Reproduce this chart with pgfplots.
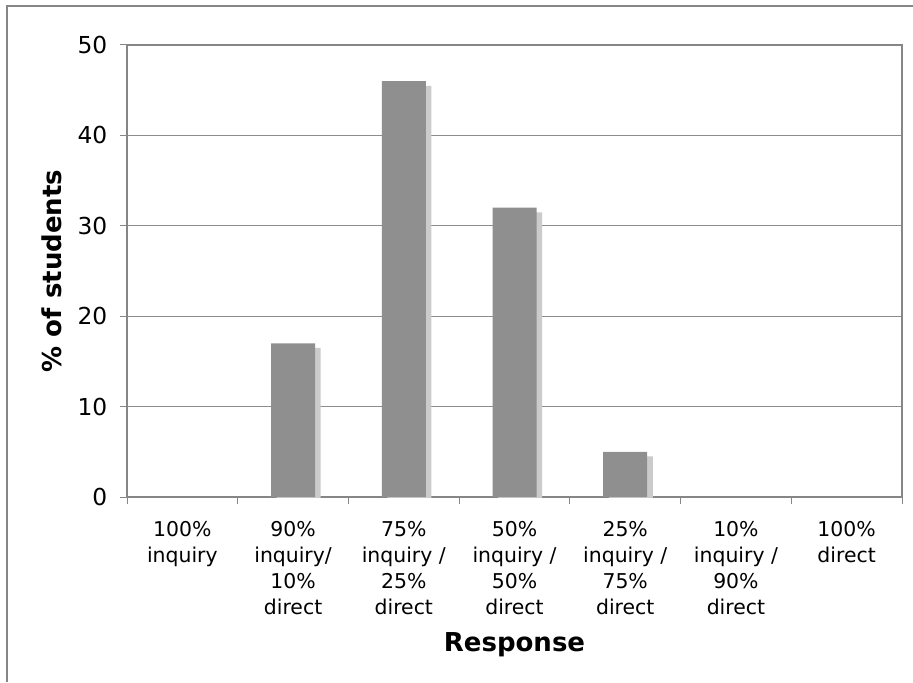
\documentclass[border=0pt]{standalone}
\usepackage{fontspec}
\setmainfont{DejaVu Sans}
\usepackage{pgfplots}
\pgfplotsset{compat=1.18}
\usetikzlibrary{shadows}
\definecolor{barfill}{HTML}{8F8F8F}
\definecolor{barshadow}{HTML}{CBCBCB}
\definecolor{axisgray}{HTML}{868686}
\definecolor{gridgray}{HTML}{8C8C8C}
\begin{document}
\begin{tikzpicture}
\path[use as bounding box] (0,0) rectangle (684.75pt,511.5pt);
\draw[axisgray, line width=1.2pt] (5.25pt,0) -- (5.25pt,507pt) -- (684.75pt,507pt);
\begin{axis}[
  at={(95.25pt,138.75pt)}, anchor=south west,
  scale only axis, width=581.25pt, height=339pt,
  xmin=-0.5, xmax=6.5, ymin=0, ymax=50,
  ytick={0,10,20,30,40,50},
  xtick={0,1,2,3,4,5,6},
  xticklabels={{100\%\\inquiry},{90\%\\inquiry/\\10\%\\direct},{75\%\\inquiry /\\25\%\\direct},{50\%\\inquiry /\\50\%\\direct},{25\%\\inquiry /\\75\%\\direct},{10\%\\inquiry /\\90\%\\direct},{100\%\\direct}},
  minor xtick={-0.5,0.5,1.5,2.5,3.5,4.5,5.5,6.5},
  tick pos=left,
  major x tick style={draw=none},
  minor x tick style={axisgray, line width=0.75pt},
  ytick style={axisgray, line width=0.75pt},
  tick align=outside,
  major tick length=5.25pt,
  minor tick length=5.25pt,
  ymajorgrids,
  grid style={gridgray, line width=0.75pt},
  axis line style={axisgray, line width=1.5pt},
  /pgf/number format/assume math mode=true,
  yticklabel style={font=\fontsize{17.5}{21}\selectfont, xshift=-6pt},
  xticklabel style={font=\fontsize{15.3}{19.5}\selectfont, align=center, anchor=north, yshift=-9.75pt},
  xlabel={\textbf{Response}},
  ylabel={\textbf{\% of students}},
  xlabel style={font=\fontsize{19.5}{23}\selectfont, at={(axis description cs:0.5,-0.3429)}, anchor=base},
  ylabel style={font=\fontsize{19.5}{23}\selectfont, at={(axis description cs:-0.0839,0.5)}, anchor=base},
]
\addplot[ybar, bar width=33pt, fill=barfill, draw=none,
  drop shadow={shadow xshift=4.2pt, shadow yshift=-3.5pt, fill=barshadow, draw=none, opacity=1}]
  coordinates {(1,17) (2,46) (3,32) (4,5)};
\end{axis}
\end{tikzpicture}
\end{document}
